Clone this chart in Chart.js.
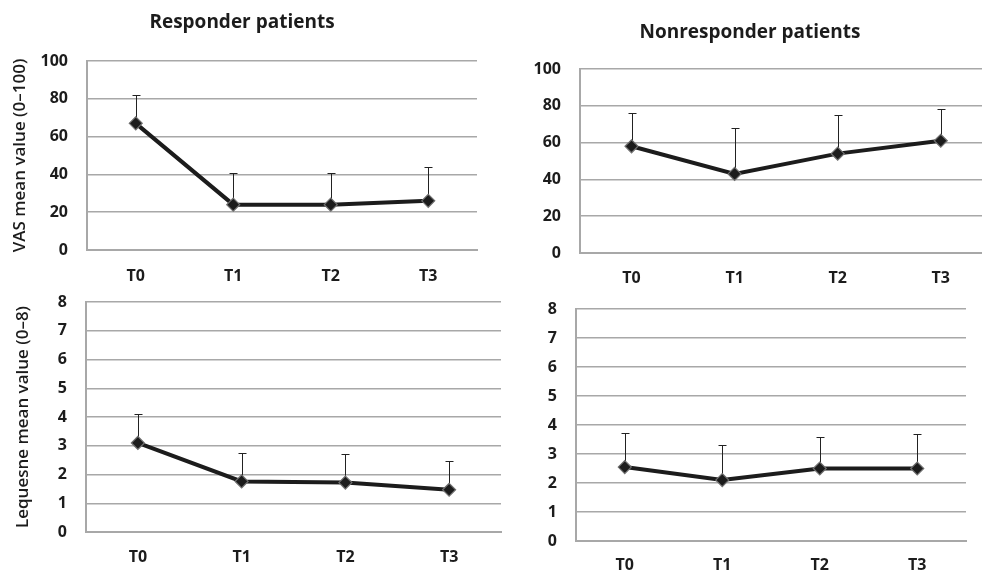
<!DOCTYPE html>
<html>
<head>
<meta charset="utf-8">
<script src="https://cdn.jsdelivr.net/npm/chart.js@4.4.1/dist/chart.umd.min.js"></script>
<style>
  html, body { margin: 0; padding: 0; background: #ffffff; overflow: hidden; width: 982px; height: 572px; }
  canvas { position: absolute; left: 0; top: 0; }
</style>
</head>
<body>
<canvas id="vasResp" width="1000" height="572"></canvas>
<canvas id="vasNonresp" width="1000" height="572"></canvas>
<canvas id="leqResp" width="1000" height="572"></canvas>
<canvas id="leqNonresp" width="1000" height="572"></canvas>
<script>
// Time points of follow-up
const timepoints = ['T0', 'T1', 'T2', 'T3'];

// VAS pain score (0-100): mean and standard deviation
const vasResponderMean = [67, 24, 24, 26];
const vasResponderSD = [15, 17, 17, 18];
const vasNonresponderMean = [58, 43, 54, 61];
const vasNonresponderSD = [18, 25, 21, 17];

// Lequesne index (0-8): mean and standard deviation
const lequesneResponderMean = [3.1, 1.76, 1.72, 1.47];
const lequesneResponderSD = [1.0, 1.0, 1.0, 1.0];
const lequesneNonresponderMean = [2.55, 2.1, 2.5, 2.5];
const lequesneNonresponderSD = [1.18, 1.2, 1.07, 1.18];

// Axis tick values
const vasTicks = [0, 20, 40, 60, 80, 100];
const lequesneTicks = [0, 1, 2, 3, 4, 5, 6, 7, 8];

const FONT = '"Open Sans", Lato, sans-serif';
const INK = '#1c1c1c';
const GRID = '#a8a8a8';
const CANVAS_W = 1000, CANVAS_H = 572;

// Upward standard-deviation whiskers with a short cap
const sdBars = {
  id: 'sdBars',
  beforeDatasetsDraw(chart) {
    const { ctx, scales: { x, y } } = chart;
    const ds = chart.data.datasets[0];
    ctx.save();
    ctx.strokeStyle = '#222222';
    ctx.lineWidth = 1;
    ds.data.forEach((v, i) => {
      const px = Math.round(x.getPixelForValue(i)) + 0.5;
      const y0 = y.getPixelForValue(v);
      const y1 = Math.round(y.getPixelForValue(v + ds.sd[i])) + 0.5;
      ctx.beginPath();
      ctx.moveTo(px, y0);
      ctx.lineTo(px, y1);
      ctx.moveTo(px - 4, y1);
      ctx.lineTo(px + 4, y1);
      ctx.stroke();
    });
    ctx.restore();
  }
};

function panel(id, cfg) {
  const a = cfg.area;
  const padRight = CANVAS_W - a.r;
  const padLeft = cfg.title ? Math.max(0, 2 * cfg.title.x - a.r) : 0;
  const yWidth = a.l - padLeft;
  const xHeight = CANVAS_H - a.b;
  const titleFs = 19, tickFs = 16, yTitleFs = 17;

  const plugins = {
    legend: { display: false },
    tooltip: { enabled: false },
    title: { display: false }
  };
  let padTop = a.t;
  if (cfg.title) {
    const half = titleFs * 0.6;
    plugins.title = {
      display: true,
      text: cfg.title.text,
      color: INK,
      font: { family: FONT, size: titleFs, weight: 'bold' },
      padding: { top: cfg.title.y - half, bottom: a.t - cfg.title.y - half }
    };
    padTop = 0;
  }

  const yTitle = cfg.yTitle ? {
    display: true,
    text: cfg.yTitle.text,
    color: INK,
    font: { family: FONT, size: yTitleFs, weight: 600 },
    padding: { top: cfg.yTitle.x - padLeft - yTitleFs * 0.6, bottom: 0 }
  } : { display: false };

  const ticks = cfg.ticks;
  new Chart(document.getElementById(id), {
    type: 'line',
    data: {
      labels: timepoints,
      datasets: [{
        data: cfg.mean,
        sd: cfg.sd,
        borderColor: INK,
        borderWidth: 4,
        pointStyle: 'rectRot',
        pointRadius: 6.5,
        pointBackgroundColor: INK,
        pointBorderColor: '#707070',
        pointBorderWidth: 1.2,
        tension: 0,
        clip: false
      }]
    },
    options: {
      responsive: false,
      animation: false,
      events: [],
      layout: { padding: { left: padLeft, right: padRight, top: padTop, bottom: 0 } },
      plugins,
      scales: {
        x: {
          offset: true,
          grid: { display: false, drawTicks: false },
          border: { display: true, color: GRID, width: 2 },
          ticks: {
            color: INK,
            font: { family: FONT, size: tickFs, weight: 'bold' },
            padding: cfg.xLabelY - a.b - tickFs * 0.6,
            maxRotation: 0,
            autoSkip: false
          },
          afterFit(s) { s.height = xHeight; }
        },
        y: {
          min: ticks[0],
          max: ticks[ticks.length - 1],
          grid: { color: GRID, lineWidth: 1.5, drawTicks: false },
          border: { display: true, color: GRID, width: 2 },
          ticks: {
            stepSize: ticks[1] - ticks[0],
            color: INK,
            font: { family: FONT, size: tickFs, weight: 'bold' },
            padding: a.l - cfg.tickRight
          },
          title: yTitle,
          afterFit(s) { s.width = yWidth; }
        }
      }
    },
    plugins: [sdBars]
  });
}

panel('vasResp', {
  mean: vasResponderMean, sd: vasResponderSD, ticks: vasTicks,
  area: { l: 87, t: 61, r: 477, b: 250 },
  title: { text: 'Responder patients', x: 242, y: 23 },
  yTitle: { text: 'VAS mean value (0–100)', x: 20 },
  tickRight: 68, xLabelY: 276
});

panel('vasNonresp', {
  mean: vasNonresponderMean, sd: vasNonresponderSD, ticks: vasTicks,
  area: { l: 580, t: 69, r: 993, b: 253 },
  title: { text: 'Nonresponder patients', x: 750, y: 33 },
  tickRight: 561, xLabelY: 278
});

panel('leqResp', {
  mean: lequesneResponderMean, sd: lequesneResponderSD, ticks: lequesneTicks,
  area: { l: 86, t: 302, r: 501, b: 532 },
  yTitle: { text: 'Lequesne mean value (0–8)', x: 23 },
  tickRight: 67, xLabelY: 557
});

panel('leqNonresp', {
  mean: lequesneNonresponderMean, sd: lequesneNonresponderSD, ticks: lequesneTicks,
  area: { l: 576, t: 309, r: 966, b: 541 },
  tickRight: 557, xLabelY: 565
});
</script>
</body>
</html>
